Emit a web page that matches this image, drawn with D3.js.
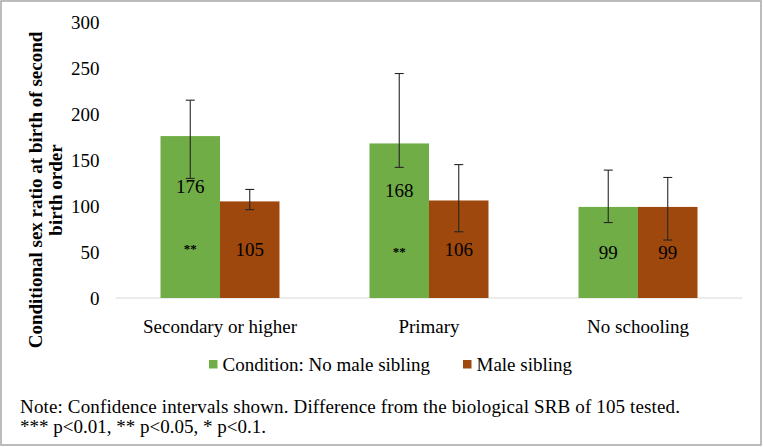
<!DOCTYPE html>
<html><head><meta charset="utf-8">
<script src="https://cdn.jsdelivr.net/npm/d3@7"></script>
<style>body{margin:0;background:#fff}svg{display:block}svg text{font-family:"Liberation Serif","Times New Roman",serif !important}</style>
</head><body>
<svg id="c" width="763" height="447"></svg>
<script>
const categories = ["Secondary or higher", "Primary", "No schooling"];
const seriesNames = ["Condition: No male sibling", "Male sibling"];
const noMaleSibling = [176, 168, 99];
const maleSibling = [105, 106, 99];
const noMaleLow = [130, 142, 82];
const noMaleHigh = [215, 244, 139];
const maleLow = [96, 72, 63];
const maleHigh = [118, 145, 131];
const significance = ["**", "**", ""];
const yTicks = [0, 50, 100, 150, 200, 250, 300];
const colors = ["#70AD47", "#9E480E"];

const svg = d3.select("#c");
const m = {left: 115.5, right: 742.5, top: 22, bottom: 298};

svg.append("rect").attr("x", 1).attr("y", 1).attr("width", 760).attr("height", 444)
  .attr("fill", "#fff").attr("stroke", "#a6a6a6").attr("stroke-width", 1.5);

const x = d3.scaleBand().domain(categories).range([m.left, m.right]);
const xs = d3.scaleBand().domain([0, 1]).range([0, 119]);
const y = d3.scaleLinear().domain([0, 300]).range([m.bottom, m.top]);

// y axis labels
const yAxis = svg.append("g").attr("transform", `translate(${m.left - 16},0)`)
  .call(d3.axisLeft(y).tickValues(yTicks).tickSize(0).tickPadding(0));
yAxis.attr("font-family", null).attr("font-size", null);
yAxis.select(".domain").remove();
yAxis.selectAll("text").attr("font-size", 19).attr("fill", "#000").attr("dy", "0.35em");

// baseline
svg.append("line").attr("x1", m.left).attr("x2", m.right).attr("y1", y(0)).attr("y2", y(0))
  .attr("stroke", "#d9d9d9").attr("stroke-width", 1);

const series = [
  {vals: noMaleSibling, lo: noMaleLow, hi: noMaleHigh},
  {vals: maleSibling, lo: maleLow, hi: maleHigh}
];
const barOffset = (x.bandwidth() - 119) / 2;

series.forEach((s, si) => {
  const g = svg.append("g");
  categories.forEach((c, ci) => {
    const bx = x(c) + barOffset + xs(si);
    const bw = xs.bandwidth();
    const v = s.vals[ci];
    g.append("rect").attr("x", bx).attr("y", y(v)).attr("width", bw).attr("height", y(0) - y(v))
      .attr("fill", colors[si]);
  });
});

// error bars
series.forEach((s, si) => {
  categories.forEach((c, ci) => {
    const cx = x(c) + barOffset + xs(si) + xs.bandwidth() / 2;
    const g = svg.append("g").attr("stroke", "#262626").attr("stroke-width", 1.1);
    g.append("line").attr("x1", cx).attr("x2", cx).attr("y1", y(s.lo[ci])).attr("y2", y(s.hi[ci]));
    [s.lo[ci], s.hi[ci]].forEach(v => {
      g.append("line").attr("x1", cx - 4.5).attr("x2", cx + 4.5).attr("y1", y(v)).attr("y2", y(v));
    });
  });
});

// value labels
series.forEach((s, si) => {
  categories.forEach((c, ci) => {
    const cx = x(c) + barOffset + xs(si) + xs.bandwidth() / 2;
    const v = s.vals[ci];
    const mid = (y(0) + y(v)) / 2;
    const sig = si === 0 ? significance[ci] : "";
    if (sig) {
      svg.append("text").attr("x", cx).attr("y", mid - 30.5).attr("dy", "0.35em")
        .attr("text-anchor", "middle").attr("font-size", 19).text(v);
      svg.append("text").attr("x", cx).attr("y", mid + 31).attr("dy", "0.35em")
        .attr("text-anchor", "middle").attr("font-size", 13).attr("font-weight", "bold").text(sig);
    } else {
      svg.append("text").attr("x", cx).attr("y", mid).attr("dy", "0.35em")
        .attr("text-anchor", "middle").attr("font-size", 19).text(v);
    }
  });
});

// x axis labels
const xAxis = svg.append("g").attr("transform", `translate(0,${m.bottom})`)
  .call(d3.axisBottom(x).tickSize(0).tickPadding(0));
xAxis.attr("font-family", null).attr("font-size", null);
xAxis.select(".domain").remove();
xAxis.selectAll("text").attr("font-size", 19).attr("fill", "#000")
  .attr("y", 28).attr("dy", "0.35em");

// y title
const yt = svg.append("text").attr("transform", "translate(0,190) rotate(-90)")
  .attr("text-anchor", "middle").attr("font-size", 19).attr("font-weight", "bold");
yt.append("tspan").attr("x", 0).attr("y", 42).text("Conditional sex ratio at birth of second");
yt.append("tspan").attr("x", 0).attr("y", 62).text("birth order");

// legend
const legendX = [209, 463];
seriesNames.forEach((n, i) => {
  svg.append("rect").attr("x", legendX[i]).attr("y", 360).attr("width", 8.5).attr("height", 8.5).attr("fill", colors[i]);
  svg.append("text").attr("x", legendX[i] + 13.5).attr("y", 364.5).attr("dy", "0.35em")
    .attr("font-size", 19).text(n);
});

// note
svg.append("text").attr("x", 20).attr("y", 406).attr("dy", "0.35em").attr("font-size", 19)
  .attr("textLength", 660).attr("lengthAdjust", "spacing")
  .text("Note: Confidence intervals shown. Difference from the biological SRB of 105 tested.");
svg.append("text").attr("x", 20).attr("y", 426).attr("dy", "0.35em").attr("font-size", 19)
  .text("*** p<0.01, ** p<0.05, * p<0.1.");
</script>
</body></html>
